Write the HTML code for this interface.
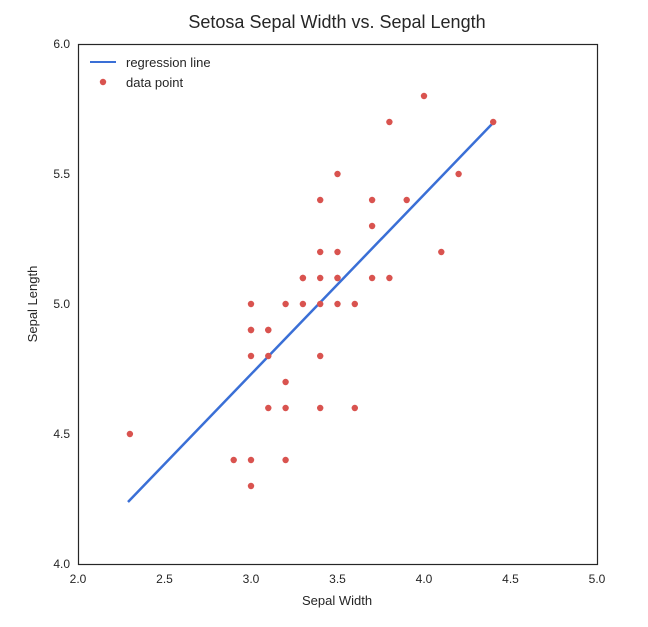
<!DOCTYPE html>
<html><head><meta charset="utf-8"><style>
html,body{margin:0;padding:0;background:#fff;}
svg text{font-family:"Liberation Sans","DejaVu Sans",sans-serif;fill:#262626;}
</style></head><body>
<svg width="648" height="622" xmlns="http://www.w3.org/2000/svg">
<rect width="648" height="622" fill="#fff"/>
<text x="337" y="28" font-size="18" text-anchor="middle">Setosa Sepal Width vs. Sepal Length</text>
<rect x="78.5" y="44.5" width="519" height="520" fill="none" stroke="#262626" stroke-width="1.2"/>
<g font-size="12" text-anchor="middle">
<text x="78" y="583">2.0</text><text x="164.5" y="583">2.5</text><text x="251" y="583">3.0</text>
<text x="337.5" y="583">3.5</text><text x="424" y="583">4.0</text><text x="510.5" y="583">4.5</text><text x="597" y="583">5.0</text>
</g>
<g font-size="12" text-anchor="end">
<text x="70" y="48">6.0</text><text x="70" y="178">5.5</text><text x="70" y="308">5.0</text>
<text x="70" y="438">4.5</text><text x="70" y="568">4.0</text>
</g>
<text x="337" y="605" font-size="13" text-anchor="middle">Sepal Width</text>
<text transform="translate(37,304) rotate(-90)" font-size="13" text-anchor="middle">Sepal Length</text>
<line x1="128" y1="502" x2="492" y2="124" stroke="#3a6fd6" stroke-width="2.5"/>
<line x1="90" y1="62" x2="116" y2="62" stroke="#3a6fd6" stroke-width="2"/>
<circle cx="103" cy="82" r="3.2" fill="#d9534f"/>
<text x="126" y="67" font-size="13">regression line</text>
<text x="126" y="87" font-size="13">data point</text>
<g fill="#d9534f">
<circle cx="337.5" cy="278" r="3.2"/><circle cx="251" cy="330" r="3.2"/><circle cx="285.6" cy="382" r="3.2"/><circle cx="268.3" cy="408" r="3.2"/><circle cx="354.8" cy="304" r="3.2"/>
<circle cx="406.7" cy="200" r="3.2"/><circle cx="320.2" cy="408" r="3.2"/><circle cx="320.2" cy="304" r="3.2"/><circle cx="233.7" cy="460" r="3.2"/><circle cx="268.3" cy="330" r="3.2"/>
<circle cx="372.1" cy="200" r="3.2"/><circle cx="320.2" cy="356" r="3.2"/><circle cx="251" cy="356" r="3.2"/><circle cx="251" cy="486" r="3.2"/><circle cx="424" cy="96" r="3.2"/>
<circle cx="493.2" cy="122" r="3.2"/><circle cx="389.4" cy="122" r="3.2"/><circle cx="389.4" cy="278" r="3.2"/><circle cx="320.2" cy="200" r="3.2"/><circle cx="372.1" cy="278" r="3.2"/>
<circle cx="354.8" cy="408" r="3.2"/><circle cx="302.9" cy="278" r="3.2"/><circle cx="251" cy="304" r="3.2"/><circle cx="320.2" cy="252" r="3.2"/><circle cx="337.5" cy="252" r="3.2"/>
<circle cx="268.3" cy="356" r="3.2"/><circle cx="441.3" cy="252" r="3.2"/><circle cx="458.6" cy="174" r="3.2"/><circle cx="285.6" cy="304" r="3.2"/><circle cx="337.5" cy="174" r="3.2"/>
<circle cx="251" cy="460" r="3.2"/><circle cx="320.2" cy="278" r="3.2"/><circle cx="337.5" cy="304" r="3.2"/><circle cx="129.9" cy="434" r="3.2"/><circle cx="285.6" cy="460" r="3.2"/>
<circle cx="285.6" cy="408" r="3.2"/><circle cx="372.1" cy="226" r="3.2"/><circle cx="302.9" cy="304" r="3.2"/><circle cx="268.3" cy="330" r="3.2"/><circle cx="251" cy="330" r="3.2"/>
<circle cx="337.5" cy="278" r="3.2"/><circle cx="302.9" cy="278" r="3.2"/>
</g>
</svg>
</body></html>
